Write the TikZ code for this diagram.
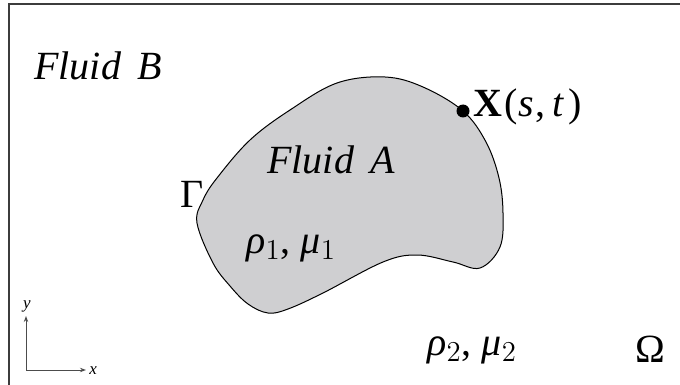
\documentclass[tikz,border=0pt]{standalone}
\usepackage{fontspec}
\setmainfont{Liberation Serif}
\usetikzlibrary{arrows.meta}
\definecolor{fluidgray}{RGB}{207,207,209}
\definecolor{framegray}{RGB}{60,60,60}
\newcommand{\gsub}[2]{\textit{#1}$_{#2}$}
\tikzset{
    % Labels
    biglbl/.style={anchor=base west, inner sep=0pt, font=\fontsize{20}{24}\selectfont},
    axlbl/.style={inner sep=0pt, font=\fontsize{8.5}{10}\selectfont\itshape},
    % Interface
    blob/.style={draw=black, line width=0.5pt, fill=fluidgray},
    mkdot/.style={circle, fill=black, inner sep=0pt, minimum size=6.5pt},
    % Axes and frame
    axarrow/.style={-{Stealth[length=3pt, width=2.2pt]}, line width=0.5pt, black!70},
    frameline/.style={draw=framegray, line width=0.75pt},
}
\begin{document}
\begin{tikzpicture}[x=0.5pt, y=-0.5pt]
\useasboundingbox (0,0) rectangle (680,385);
\draw[frameline] (9,385) -- (9,4) -- (680,4);

% Fluid A
\draw[blob] plot[smooth cycle, tension=0.6] coordinates {
    (385,77) (423,87) (463,111) (486,142) (499,178) (503,213) (500,247)
    (480,268) (453,262) (417,255) (383,262) (323,293) (288,309) (268,313)
    (248,304) (230,286) (213,263) (197,223) (203,200) (217,178) (250,140) (290,110) (337,83)};

\node[mkdot] (xpt) at (463,111) {};
\node[biglbl] (xlbl) at (473,117) {\textbf{X}\kern.06em(\textit{s}\kern.05em,\,\textit{t}\kern.12em)};

\node[biglbl] (fluidB) at (34,80) {\textit{Fluid\hspace{.4em}B}};
\node[biglbl] (fluidA) at (267,173) {\textit{Fluid\hspace{.4em}A}};
\node[biglbl] (gam) at (180,207) {Γ};
\node[biglbl] (prop1) at (246,253) {\gsub{ρ}{1}, \gsub{μ}{1}};
\node[biglbl] (prop2) at (427,355) {\gsub{ρ}{2}, \gsub{μ}{2}};
\node[biglbl] (omega) at (635,362) {Ω};

% axes
\coordinate (orig) at (26,370);
\coordinate (ytip) at (26,316);
\coordinate (xtip) at (86,370);
\draw[axarrow] (orig) -- (ytip);
\draw[axarrow] (orig) -- (xtip);
\node[axlbl, anchor=base] (ylbl) at (27,308) {y};
\node[axlbl, anchor=base west] (xlbl2) at (89,374) {x};
\end{tikzpicture}
\end{document}
